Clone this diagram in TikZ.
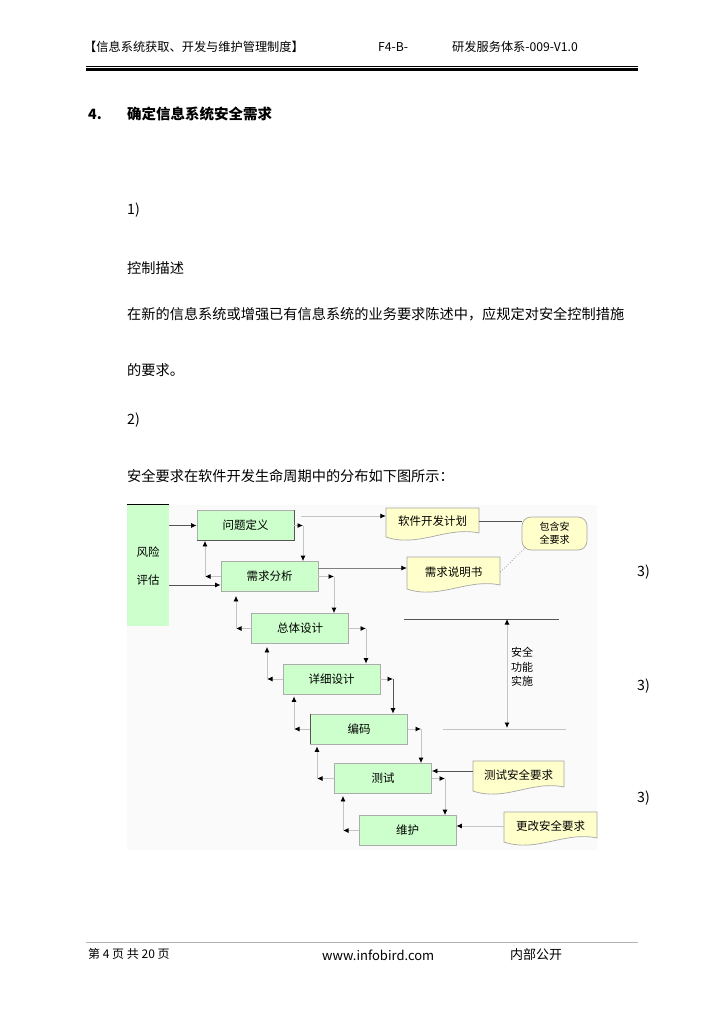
\documentclass[tikz,border=0pt]{standalone}
\usepackage{fontspec}
\setmainfont{Noto Sans CJK SC}
\usetikzlibrary{arrows.meta,calc}
\definecolor{boxgreen}{HTML}{CCFFCC}
\definecolor{docyellow}{HTML}{FFFFCC}
\definecolor{lightline}{HTML}{C4C4C4}
\definecolor{darkline}{HTML}{555555}
\tikzset{
  stepbox/.style={draw=gray!65, line width=0.8pt, fill=boxgreen, minimum width=97pt, minimum height=30pt, inner sep=0pt, font=\fontsize{11.5}{13}\selectfont},
  docnode/.style={inner sep=0pt, minimum width=93pt, minimum height=30pt, font=\fontsize{11.5}{13}\selectfont},
  docshape/.style={draw=gray!70, line width=0.7pt, fill=docyellow},
  arr/.style={-{Latex[length=5.5pt,width=5pt,color=black]}, draw=lightline, line width=0.8pt},
  darr/.style={arr, draw=darkline},
  plain/.style={anchor=west, inner sep=0pt},
  bodytext/.style={plain, font=\fontsize{14.2}{17}\selectfont},
  headtext/.style={plain, font=\fontsize{12.2}{14}\selectfont},
  smalltext/.style={inner sep=0pt, font=\fontsize{11.5}{13}\selectfont},
}
% document shape: x1, y1 (top), x2, y2 (bottom at left end)
\newcommand\docshapeat[4]{%
  \path[docshape] (#1,#2) -- (#3,#2) -- (#3,#4-4)
    .. controls ($(#1,#4)!0.65!(#3,#4)+(0,-11)$) and ($(#1,#4)!0.35!(#3,#4)+(0,11)$) .. (#1,#4) -- cycle;}
\begin{document}
\begin{tikzpicture}[x=1pt,y=-1pt]
\useasboundingbox (0,0) rectangle (724,1024);
\fill[white] (0,0) rectangle (724,1024);

% diagram background
\fill[black!2] (127,505) rectangle (597,850);

% header
\node[headtext] (h1) at (84,47) {【信息系统获取、开发与维护管理制度】};
\node[headtext] (h2) at (378,47) {F4-B-};
\node[headtext] (h3) at (452,47) {研发服务体系-009-V1.0};
\draw[line width=0.8pt] (86,66.5) -- (638,66.5);
\draw[line width=2.6pt] (86,69.8) -- (638,69.8);

% body
\node[plain, font=\bfseries\fontsize{14.2}{17}\selectfont] (num4) at (88,114) {4.};
\node[plain, font=\bfseries\fontsize{14.5}{17}\selectfont] (title) at (127,114) {确定信息系统安全需求};
\node[bodytext] (b1) at (127,210) {1)};
\node[bodytext] (b2) at (127,268) {控制描述};
\node[bodytext] (b3) at (127,314) {在新的信息系统或增强已有信息系统的业务要求陈述中，应规定对安全控制措施};
\node[bodytext] (b4) at (127,370) {的要求。};
\node[bodytext] (b5) at (127,420) {2)};
\node[bodytext] (b6) at (127,476) {安全要求在软件开发生命周期中的分布如下图所示：};
\node[bodytext] (n1) at (637,572) {3)};
\node[bodytext] (n2) at (637,686) {3)};
\node[bodytext] (n3) at (637,798) {3)};

% risk box
\node[fill=boxgreen, minimum width=42pt, minimum height=121pt, inner sep=0pt] (risk) at (148,565.5) {};
\draw[black, line width=1pt] (risk.north west) -- (risk.north east);
\node[smalltext] (riskA) at (148,552) {风险};
\node[smalltext] (riskB) at (148,580) {评估};

% process boxes
\node[stepbox] (p1) at (245.5,525.5) {问题定义};
\node[stepbox] (p2) at (269.5,576.5) {需求分析};
\node[stepbox] (p3) at (300,628.5) {总体设计};
\node[stepbox] (p4) at (331.5,679) {详细设计};
\node[stepbox] (p5) at (359,729) {编码};
\node[stepbox] (p6) at (383,778.5) {测试};
\node[stepbox] (p7) at (407.5,830.5) {维护};
\draw[darkline, line width=0.9pt] (p1.north east) -- (p1.south east) -- (p1.south west);
\draw[darkline, line width=0.9pt] (p5.north west) -- (p5.south west);

% documents
\docshapeat{386}{508}{479}{537}
\docshapeat{407}{557}{500}{589}
\docshapeat{473}{761}{564}{791}
\docshapeat{504}{812}{597}{842}
\node[docnode] (d1) at (432.5,521.5) {软件开发计划};
\node[docnode, minimum height=32pt] (d2) at (453.5,572) {需求说明书};
\node[docnode, minimum width=91pt] (d3) at (518.5,775) {测试安全要求};
\node[docnode] (d4) at (550.5,826) {更改安全要求};
\node[draw=gray!70, line width=0.7pt, fill=docyellow, rounded corners=9pt, minimum width=65pt, minimum height=33pt, inner sep=0pt, align=center, font=\fontsize{10}{13}\selectfont] (r1) at (554.5,533.5) {包含安\\全要求};

% risk connectors
\draw[darr] (risk.east |- p1.west) -- (p1.west);
\coordinate (r2) at ([yshift=-8.5pt]p2.west);
\draw[darr] (r2 -| risk.east) -- (r2);

% forward connectors (right, then down)
\coordinate (c1) at (303,525.5);
\coordinate (c2) at (334,576.5);
\coordinate (c3) at (366,628.5);
\coordinate (c4) at (393,679);
\coordinate (c5) at (421,729);
\coordinate (c6) at (445,778.5);
\draw[arr] (p1.east) -- (c1);
\draw[arr] (c1) -- (c1 |- p2.north);
\draw[arr] (p2.east) -- (c2);
\draw[arr] (c2) -- (c2 |- p3.north);
\draw[arr] (p3.east) -- (c3);
\draw[arr] (c3) -- (c3 |- p4.north);
\draw[arr] (p4.east) -- (c4);
\draw[darr] (c4) -- (c4 |- p5.north);
\draw[arr] (p5.east) -- (c5);
\draw[arr] (c5) -- (c5 |- p6.north);
\draw[arr] (p6.east) -- (c6);
\draw[arr] (c6) -- (c6 |- p7.north);

% feedback connectors (left, then up)
\coordinate (f2) at (205,576.5);
\coordinate (f3) at (236,628.5);
\coordinate (f4) at (267,679);
\coordinate (f5) at (294,729);
\coordinate (f6) at (317,778.5);
\coordinate (f7) at (343,830.5);
\draw[arr] (p2.west) -- (f2);
\draw[arr] (f2) -- (f2 |- p1.south);
\draw[arr] (p3.west) -- (f3);
\draw[arr] (f3) -- ([yshift=-4pt]f3 |- p2.south);
\draw[arr] (p4.west) -- (f4);
\draw[arr] (f4) -- ([yshift=-3pt]f4 |- p3.south);
\draw[arr] (p5.west) -- (f5);
\draw[arr] (f5) -- ([yshift=-2pt]f5 |- p4.south);
\draw[arr] (p6.west) -- (f6);
\draw[arr] (f6) -- ([yshift=-2pt]f6 |- p5.south);
\draw[arr] (p7.west) -- (f7);
\draw[arr] (f7) -- ([yshift=-2pt]f7 |- p6.south);

% document connectors
\coordinate (s1) at (301,516);
\draw[arr] (s1) -- (s1 -| d1.west);
\coordinate (a2) at ([yshift=8.5pt]p2.east);
\draw[darr, draw=gray] (a2) -- (a2 -| d2.west);
\draw[darkline, line width=0.8pt] (d1.east) -- (d1.east -| r1.west);
\draw[gray, line width=0.7pt, dotted] (d2.east) -- ([xshift=4pt,yshift=3pt]r1.south west);
\coordinate (t3) at ([yshift=4pt]d3.west);
\draw[darr] (t3) -- (t3 -| p6.east);
\draw[arr] (d4.west) -- (d4.west -| p7.east);

% security implementation bracket
\coordinate (secTL) at (404,619);
\coordinate (secTR) at (559,619);
\coordinate (secT) at (507,619);
\coordinate (secB) at (507,728);
\coordinate (secBL) at (443,729);
\coordinate (secBR) at (566,729);
\draw[darkline, line width=0.9pt] (secTL) -- (secTR);
\draw[lightline, line width=0.7pt] (secBL) -- (secBR);
\draw[{Latex[length=5.5pt,width=5pt,color=black]}-{Latex[length=5.5pt,width=5pt,color=black]}, draw=lightline, line width=0.8pt] (secT) -- (secB);
\node[smalltext, align=left, font=\fontsize{11}{14.5}\selectfont] (secText) at (522,667) {安全\\功能\\实施};

% footer
\draw[gray!60, line width=0.6pt] (86,942) -- (638,942);
\node[plain, font=\fontsize{12}{14}\selectfont] (ft1) at (88,954) {第 4 页 共 20 页};
\node[plain, font=\fontsize{13}{15}\selectfont] (ft2) at (322,955) {www.infobird.com};
\node[plain, font=\fontsize{13}{15}\selectfont] (ft3) at (510,955) {内部公开};
\end{tikzpicture}
\end{document}
